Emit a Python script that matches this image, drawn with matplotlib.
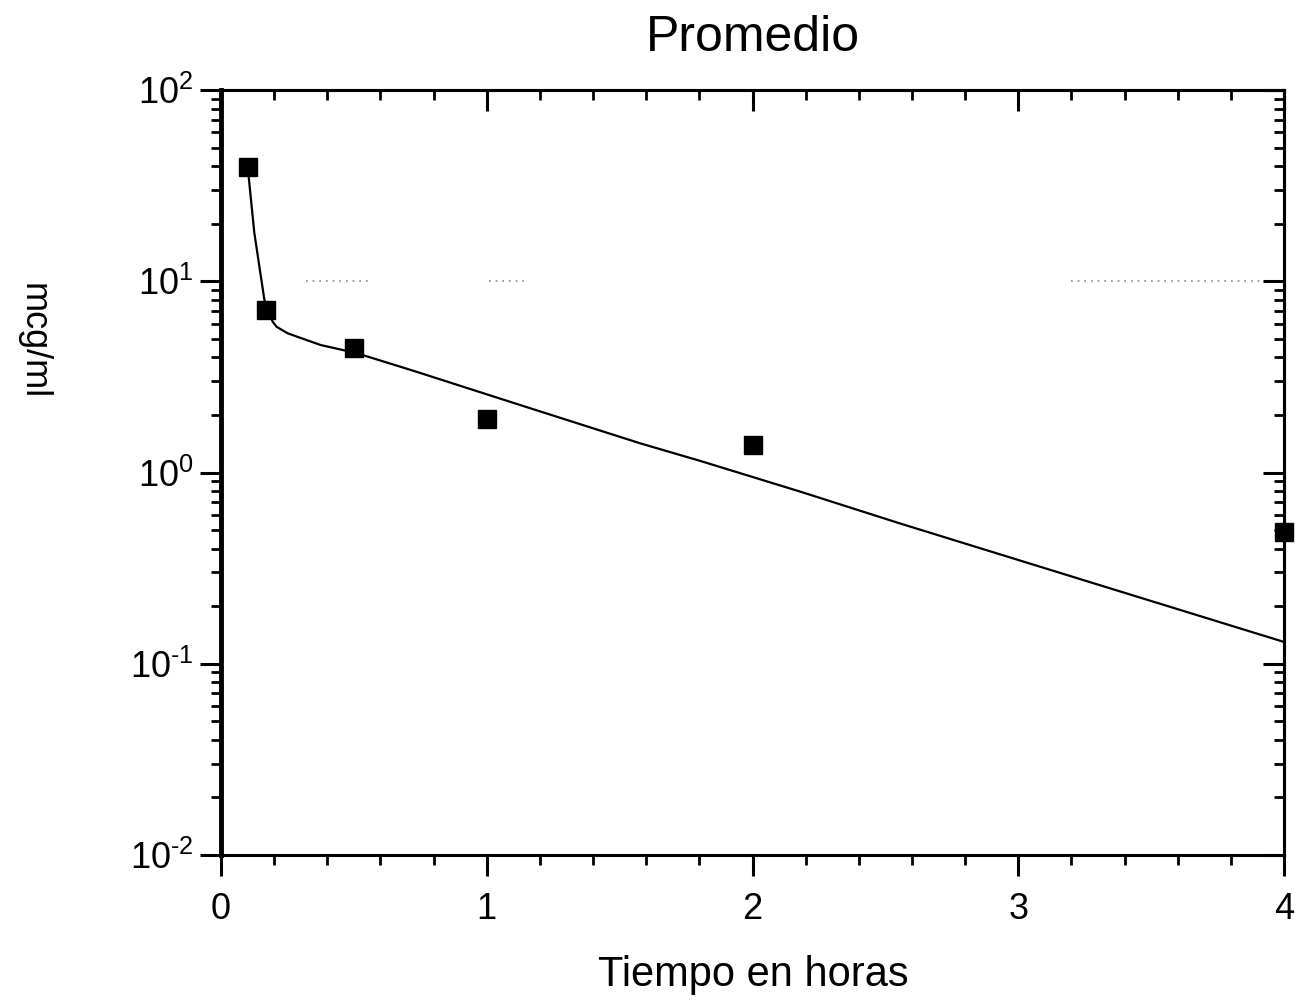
# Promedio: concentración (mcg/ml) frente a tiempo, escala semilog
import math
import matplotlib
matplotlib.use("Agg")
import matplotlib.pyplot as plt
from matplotlib.ticker import MultipleLocator, LogLocator, NullFormatter, FuncFormatter

plt.rcParams['font.family'] = ['Liberation Sans', 'DejaVu Sans']
plt.rcParams['mathtext.fontset'] = 'custom'
plt.rcParams['mathtext.rm'] = 'Liberation Sans'
plt.rcParams['mathtext.default'] = 'regular'

# datos medidos (horas, mcg/ml)
tiempo = [0.10, 0.17, 0.50, 1.0, 2.0, 4.0]
conc = [39.7, 7.08, 4.48, 1.90, 1.39, 0.49]

# curva ajustada
curva_t = [0.10, 0.125, 0.163, 0.194, 0.209, 0.25, 0.30, 0.375, 0.507, 0.676, 0.751,
           1.127, 1.578, 1.803, 2.18, 2.554, 3.305, 4.0]
curva_c = [40.0, 18.0, 8.0, 6.15, 5.78, 5.35, 5.05, 4.64, 4.22, 3.57, 3.31,
           2.25, 1.42, 1.15, 0.794, 0.542, 0.258, 0.130]

# restos de la rejilla punteada en y = 10
rejilla_ini = [0.32, 1.01, 3.2]
rejilla_fin = [0.56, 1.16, 3.92]


def etiqueta_log(v, pos):
    exp = int(round(math.log10(v)))
    if exp < 0:
        return r'$10^{\text{-}%d}$' % (-exp)
    return r'$10^{%d}$' % exp


fig = plt.figure(figsize=(12.95, 10.05), dpi=100)
ax = fig.add_axes([0.1707, 0.1493, 0.8208, 0.7611])

ax.hlines([10] * len(rejilla_ini), rejilla_ini, rejilla_fin,
          colors='#888888', linestyles=(0, (1, 3)), linewidth=1.2)
ax.plot(curva_t, curva_c, color='black', linewidth=1.6)
ax.plot(tiempo, conc, linestyle='none', marker='s', markersize=13,
        color='black', clip_on=False, zorder=5)

ax.set_yscale('log')
ax.set_xlim(0, 4)
ax.set_ylim(1e-2, 1e2)

ax.xaxis.set_major_locator(MultipleLocator(1))
ax.xaxis.set_minor_locator(MultipleLocator(0.2))
ax.yaxis.set_major_locator(LogLocator(base=10, numticks=10))
ax.yaxis.set_major_formatter(FuncFormatter(etiqueta_log))
ax.yaxis.set_minor_locator(LogLocator(base=10, subs=range(2, 10), numticks=20))
ax.yaxis.set_minor_formatter(NullFormatter())

ax.tick_params(which='major', direction='out', length=15, width=2.2,
               labelsize=26, pad=5)
ax.tick_params(axis='x', which='major', length=15, pad=12)
ax.tick_params(which='minor', direction='out', length=7, width=2.0)

for lado in ['top', 'right', 'bottom']:
    ax.spines[lado].set_linewidth(2.2)
ax.spines['left'].set_linewidth(3.5)

# ticks hacia dentro arriba y a la derecha
sx = ax.secondary_xaxis('top')
sx.xaxis.set_major_locator(MultipleLocator(1))
sx.xaxis.set_minor_locator(MultipleLocator(0.2))
sx.tick_params(which='major', direction='in', length=15, width=2.2, labeltop=False)
sx.tick_params(which='minor', direction='in', length=7, width=2.0)
sx.spines['top'].set_linewidth(2.2)

sy = ax.secondary_yaxis('right')
sy.yaxis.set_major_locator(LogLocator(base=10, numticks=10))
sy.yaxis.set_minor_locator(LogLocator(base=10, subs=range(2, 10), numticks=20))
sy.yaxis.set_minor_formatter(NullFormatter())
sy.tick_params(which='major', direction='in', length=15, width=2.2, labelright=False)
sy.tick_params(which='minor', direction='in', length=7, width=2.0)
sy.spines['right'].set_linewidth(2.2)

ax.set_title('Promedio', fontsize=36, pad=28)
ax.set_xlabel('Tiempo en horas', fontsize=30)
ax.xaxis.set_label_coords(0.501, -0.157)
ax.xaxis.label.set_va('center')
ax.set_ylabel('mcg/ml', fontsize=26, rotation=-90)
ax.yaxis.set_label_coords(-0.177, 0.672)
ax.yaxis.label.set_va('center')

fig.savefig('out.png', dpi=100)
